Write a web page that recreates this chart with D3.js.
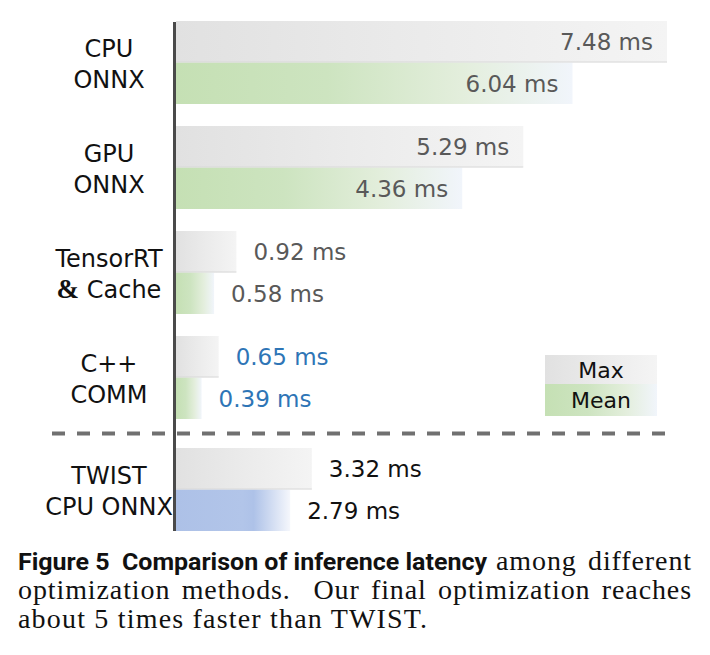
<!DOCTYPE html>
<html>
<head>
<meta charset="utf-8">
<script src="https://cdn.jsdelivr.net/npm/d3@7"></script>
<style>
  html, body { margin: 0; padding: 0; background: #ffffff; }
  svg { display: block; }
</style>
</head>
<body>
<div id="chart"></div>
<script>
// ---------------- data ----------------
const categories = ["CPU ONNX", "GPU ONNX", "TensorRT & Cache", "C++ COMM", "TWIST CPU ONNX"];
const categoryLines = [["CPU", "ONNX"], ["GPU", "ONNX"], ["TensorRT", "& Cache"], ["C++", "COMM"], ["TWIST", "CPU ONNX"]];
const seriesNames = ["Max", "Mean"];
const maxValues  = [7.48, 5.29, 0.92, 0.65, 3.32];
const meanValues = [6.04, 4.36, 0.58, 0.39, 2.79];
const unit = "ms";
const baselineCategory = "TWIST CPU ONNX";   // shown below the divider
const highlightCategory = "C++ COMM";        // value labels in blue
const captionBold = "Figure 5  Comparison of inference latency";
const captionLines = ["among different", "optimization methods.  Our final optimization reaches", "about 5 times faster than TWIST."];

// ---------------- layout ----------------
const W = 710, H = 655;
const axisX = 174.5, barX0 = 176;
const svg = d3.select("#chart").append("svg").attr("width", W).attr("height", H);

const defs = svg.append("defs");
function grad(id, stops) {
  const g = defs.append("linearGradient").attr("id", id).attr("x1", 0).attr("x2", 1).attr("y1", 0).attr("y2", 0);
  stops.forEach(([o, c]) => g.append("stop").attr("offset", o).attr("stop-color", c));
}
grad("gMax", [[0, "#e1e1e1"], [0.5, "#ebebeb"], [1, "#f4f4f4"]]);
grad("gMean", [[0, "#c5e0b4"], [0.38, "#cde4c0"], [0.72, "#e3eedc"], [1, "#f1f5fb"]]);
grad("gBase", [[0, "#adc1e7"], [0.58, "#b2c5e9"], [0.68, "#aec2e8"], [1, "#f5f7fc"]]);

const mainCats = categories.filter(c => c !== baselineCategory);
const yMain = d3.scaleBand().domain(mainCats).range([21, 419]).paddingInner(0.2095).paddingOuter(0);
const yBase = d3.scaleBand().domain([baselineCategory]).range([448, 531]);
const yOf = c => (c === baselineCategory ? yBase : yMain);

const mainMax = d3.max(mainCats.map(c => maxValues[categories.indexOf(c)]));
const xMain = d3.scaleLinear().domain([0, mainMax]).range([0, 491]);
const xBase = d3.scaleLinear().domain([0, 12]).range([0, 491]);
const xOf = c => (c === baselineCategory ? xBase : xMain);

const sub = d3.scaleBand().domain(seriesNames).range([0, yMain.bandwidth()]);

const rows = [];
categories.forEach((c, i) => {
  rows.push({ cat: c, series: "Max", value: maxValues[i] });
  rows.push({ cat: c, series: "Mean", value: meanValues[i] });
});

const fillOf = d => d.series === "Max" ? "url(#gMax)" : (d.cat === baselineCategory ? "url(#gBase)" : "url(#gMean)");
const labelColor = d => d.cat === highlightCategory ? "#2e75b6" : (d.cat === baselineCategory ? "#111111" : "#595959");

// dashed divider between sections
const divY = (yMain.range()[1] + yBase.range()[0]) / 2;
svg.append("line")
  .attr("x1", 52).attr("x2", 667).attr("y1", divY).attr("y2", divY)
  .attr("stroke", "#707070").attr("stroke-width", 4).attr("stroke-dasharray", "13 12");

// bars
const bars = svg.append("g");
bars.selectAll("rect").data(rows).join("rect")
  .attr("x", barX0)
  .attr("y", d => yOf(d.cat)(d.cat) + sub(d.series))
  .attr("width", d => xOf(d.cat)(d.value))
  .attr("height", sub.bandwidth())
  .attr("fill", fillOf);

bars.selectAll("line").data(rows.filter(d => d.series === "Max")).join("line")
  .attr("x1", barX0)
  .attr("x2", d => barX0 + xOf(d.cat)(d.value))
  .attr("y1", d => yOf(d.cat)(d.cat) + sub.bandwidth() - 0.5)
  .attr("y2", d => yOf(d.cat)(d.cat) + sub.bandwidth() - 0.5)
  .attr("stroke", "#d9d9d9").attr("stroke-width", 1);

// value labels
const valueFont = 23;
svg.append("g").selectAll("text").data(rows).join("text")
  .attr("font-family", "DejaVu Sans, sans-serif")
  .attr("font-size", valueFont)
  .attr("fill", labelColor)
  .attr("y", d => yOf(d.cat)(d.cat) + sub(d.series) + sub.bandwidth() / 2 + valueFont * 0.729 / 2)
  .each(function (d) {
    const w = xOf(d.cat)(d.value);
    const inside = w > 200;
    d3.select(this)
      .attr("x", inside ? barX0 + w - 14 : barX0 + w + 17)
      .attr("text-anchor", inside ? "end" : "start");
  })
  .text(d => `${d.value.toFixed(2)} ${unit}`);

// category labels
const catFont = 24;
const catG = svg.append("g");
categories.forEach((c, i) => {
  const y = yOf(c);
  const mid = y(c) + y.bandwidth() / 2;
  categoryLines[i].forEach((line, j) => {
    const t = catG.append("text")
      .attr("x", 109).attr("y", mid + (j === 0 ? -14 : 17) + catFont * 0.729 / 2)
      .attr("text-anchor", "middle")
      .attr("font-family", "DejaVu Sans, sans-serif")
      .attr("font-size", catFont).attr("fill", "#111111");
    if (line.startsWith("& ")) {
      t.append("tspan").attr("font-family", "Liberation Serif, serif").attr("font-weight", "bold").attr("font-size", 27).text("&");
      t.append("tspan").text(" " + line.slice(2));
    } else {
      t.text(line);
    }
  });
});

// axis line
svg.append("line")
  .attr("x1", axisX).attr("x2", axisX).attr("y1", 22).attr("y2", 531)
  .attr("stroke", "#4a4a4a").attr("stroke-width", 3);

// legend
const lg = svg.append("g");
const legX = 545, legW = 112;
const legRows = [{ s: "Max", y: 355, h: 29, fill: "url(#gMax)" }, { s: "Mean", y: 384, h: 32, fill: "url(#gMean)" }];
legRows.forEach(r => {
  lg.append("rect").attr("x", legX).attr("y", r.y).attr("width", legW).attr("height", r.h).attr("fill", r.fill);
  lg.append("text").attr("x", legX + legW / 2).attr("y", r.y + r.h / 2 + 22 * 0.729 / 2)
    .attr("text-anchor", "middle").attr("font-family", "DejaVu Sans, sans-serif")
    .attr("font-size", 22).attr("fill", "#111").text(r.s);
});

// caption
const capL = 18, capR = 692;
const cap = svg.append("g");
cap.append("text")
  .attr("x", capL).attr("y", 570)
  .attr("font-family", "Roboto, sans-serif").attr("font-weight", 700).attr("font-size", 24)
  .attr("fill", "#111").style("white-space", "pre")
  .attr("textLength", 469).attr("lengthAdjust", "spacingAndGlyphs")
  .text(captionBold);

const serifStyle = sel => sel.attr("font-family", "Liberation Serif, serif").attr("font-size", 28)
  .attr("fill", "#111").attr("letter-spacing", 0.9);

const words1 = captionLines[0].split(" ");
cap.append("text").call(serifStyle).attr("x", 496).attr("y", 570).text(words1[0]);
cap.append("text").call(serifStyle).attr("x", capR).attr("y", 570).attr("text-anchor", "end").text(words1.slice(1).join(" "));

// justified line 2
const l2 = cap.append("text").call(serifStyle).attr("x", capL).attr("y", 599).style("white-space", "pre").text(captionLines[1]);
const nat = l2.node().getComputedTextLength();
const spaces = (captionLines[1].match(/ /g) || []).length;
l2.attr("word-spacing", (capR - capL - nat) / spaces);

cap.append("text").call(serifStyle).attr("x", capL).attr("y", 628)
  .attr("textLength", 410).attr("lengthAdjust", "spacing").text(captionLines[2]);
</script>
</body>
</html>
